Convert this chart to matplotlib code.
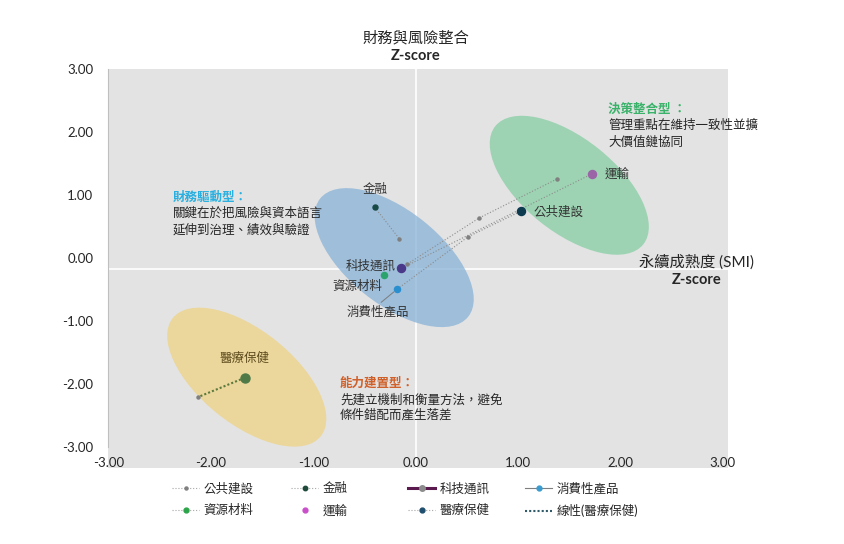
import matplotlib.pyplot as plt
from matplotlib.lines import Line2D
from matplotlib.patches import Ellipse
from matplotlib.transforms import ScaledTranslation

plt.rcParams['font.family'] = ['Lato', 'Noto Sans CJK TC', 'DejaVu Sans']

# industries: SMI z-score (x) vs finance & risk integration z-score (y)
names = ['公共建設', '金融', '科技通訊', '消費性產品', '資源材料', '運輸', '醫療保健']
smi = [1.03, -0.40, -0.14, -0.18, -0.31, 1.72, -1.67]
fin = [0.75, 0.81, -0.16, -0.49, -0.27, 1.34, -1.90]
colors = ['#0e3a50', '#184a46', '#4a3888', '#2a8fcf', '#2aa46c', '#9b64a6', '#4f7a48']
sizes = [5.8, 3.6, 5.8, 4.4, 4.4, 5.8, 6.5]

# dotted connector lines drawn between points
link_x = [[-0.08, 0.62, 1.38], [-0.14, 1.72], [-0.18, 0.51, 1.03], [-0.40, -0.16]]
link_y = [[-0.09, 0.64, 1.26], [-0.16, 1.34], [-0.49, 0.34, 0.75], [0.81, 0.31]]
small_x = [-0.08, 0.62, 1.38, 0.51, -0.16, -2.13]
small_y = [-0.09, 0.64, 1.26, 0.34, 0.31, -2.21]

# linear trend for 醫療保健
trend_x = [-1.67, -2.13]
trend_y = [-1.90, -2.21]

# cluster ellipses
cluster_x = [-0.21, 1.50, -1.65]
cluster_y = [0.01, 1.16, -1.89]
cluster_col = ['#87b2d7', '#86cea4', '#eed283']

ticks = [-3, -2, -1, 0, 1, 2, 3]
tick_labels = [f'{t:.2f}' for t in ticks]

fig = plt.figure(figsize=(8.45, 5.44), dpi=100)
ax = fig.add_axes([108.5 / 845, 76 / 544, 619.5 / 845, 398.5 / 544])
ax.set_facecolor('#e3e3e3')
ax.set_xlim(-3.0, 3.05)
ax.set_ylim(-3.334, 3.0)
for s in ['top', 'right', 'bottom']:
    ax.spines[s].set_visible(False)
ax.spines['left'].set_bounds(-3, 3)
ax.spines['left'].set_color('#bfbfbf')
ax.set_xticks(ticks, tick_labels)
ax.set_yticks(ticks, tick_labels)
ax.tick_params(axis='x', length=0, pad=-8, labelsize=9.5, labelcolor='#262626')
ax.tick_params(axis='y', length=0, pad=11, labelsize=9.5, labelcolor='#262626')

ax.axvline(0, color='white', lw=1.2, zorder=1)
ax.axhline(-0.17, color='white', lw=1.2, zorder=1)

for cx, cy, c in zip(cluster_x, cluster_y, cluster_col):
    tr = fig.dpi_scale_trans + ScaledTranslation(cx, cy, ax.transData)
    ax.add_patch(Ellipse((0, 0), 1.894, 0.936, angle=-38.6, transform=tr,
                         facecolor=c, edgecolor='none', alpha=0.75, zorder=2))

for lx, ly in zip(link_x, link_y):
    ax.plot(lx, ly, color='#8c8c8c', ls=':', lw=0.8, zorder=3)
ax.plot(trend_x, trend_y, color='#5c7a3c', ls=(0, (1, 1)), lw=1.5, zorder=3)
ax.plot(small_x, small_y, 'o', color='#808080', ms=2.2, zorder=4)

for x, y, c, ms in zip(smi, fin, colors, sizes):
    ax.plot(x, y, 'o', color=c, ms=ms, zorder=5)

lab = dict(fontsize=9, color='#333333', textcoords='offset points', va='center', zorder=6)
ax.annotate(names[0], (smi[0], fin[0]), xytext=(9, 0), ha='left', **lab)
ax.annotate(names[1], (smi[1], fin[1]), xytext=(0, 13), ha='center', **lab)
ax.annotate(names[2], (smi[2], fin[2]), xytext=(-4, 2), ha='right', **lab)
ax.annotate(names[3], (smi[3], fin[3]), xytext=(-14, -16), ha='center',
            arrowprops=dict(arrowstyle='-', color='#7f7f7f', lw=0.75,
                            shrinkA=0, shrinkB=3, relpos=(0.5, 1.0)), **lab)
ax.annotate(names[4], (smi[4], fin[4]), xytext=(-1, -8), ha='right', **lab)
ax.annotate(names[5], (smi[5], fin[5]), xytext=(9, 0), ha='left', **lab)
lab['color'] = '#5c4b1d'
ax.annotate(names[6], (smi[6], fin[6]), xytext=(0, 14.5), ha='center', **lab)

# quadrant notes
body = dict(fontsize=9, color='#262626', va='center', ha='left', zorder=6)
ax.text(-2.37, 0.97, '財務驅動型：', color='#2ab0e0', fontsize=9, fontweight='bold', va='center')
ax.text(-2.37, 0.72, '關鍵在於把風險與資本語言', **body)
ax.text(-2.37, 0.46, '延伸到治理、績效與驗證', **body)
ax.text(1.88, 2.37, '決策整合型 ：', color='#3ab26a', fontsize=9, fontweight='bold', va='center')
ax.text(1.88, 2.12, '管理重點在維持一致性並擴', **body)
ax.text(1.88, 1.86, '大價值鏈協同', **body)
ax.text(-0.74, -1.98, '能力建置型：', color='#d0602a', fontsize=9, fontweight='bold', va='center')
ax.text(-0.74, -2.24, '先建立機制和衡量方法，避免', **body)
ax.text(-0.74, -2.48, '條件錯配而產生落差', **body)

fig.text(416 / 845, 1 - 38 / 544, '財務與風險整合', ha='center', va='center', fontsize=11, color='#262626')
fig.text(416 / 845, 1 - 56 / 544, 'Z-score', ha='center', va='center', fontsize=10.5,
         fontweight='bold', color='#262626')
fig.text(697 / 845, 1 - 262 / 544, '永續成熟度 (SMI)', ha='center', va='center', fontsize=11, color='#262626')
fig.text(697 / 845, 1 - 280 / 544, 'Z-score', ha='center', va='center', fontsize=10.5,
         fontweight='bold', color='#262626')

# legend, laid out in four equal columns
gray = '#a6a6a6'
h = [
    Line2D([], [], color=gray, ls=':', lw=0.8, marker='o', ms=2.2, mfc='#808080', mec='#808080'),
    Line2D([], [], color=gray, ls=':', lw=0.8, marker='o', ms=3.2, mfc='#1e4a3c', mec='#1e4a3c'),
    Line2D([], [], color='#5b1a4e', ls='-', lw=2.2, marker='o', ms=4, mfc='#8c8c8c', mec='#8c8c8c'),
    Line2D([], [], color='#7f7f7f', ls='-', lw=0.8, marker='o', ms=3.5, mfc='#3a9bd0', mec='#3a9bd0'),
    Line2D([], [], color=gray, ls=':', lw=0.8, marker='o', ms=3.5, mfc='#2ca54a', mec='#2ca54a'),
    Line2D([], [], color='none', marker='o', ms=3.5, mfc='#c94fc9', mec='#c94fc9'),
    Line2D([], [], color=gray, ls=':', lw=0.8, marker='o', ms=3.5, mfc='#1f4e6e', mec='#1f4e6e'),
    Line2D([], [], color='#2f5a6a', ls=(0, (1, 1)), lw=1.5),
]
leg_labels = ['公共建設', '金融', '科技通訊', '消費性產品', '資源材料', '運輸', '醫療保健', '線性(醫療保健)']
col_x = [172, 291, 408, 525]
for i, x in enumerate(col_x):
    fig.legend([h[i], h[i + 4]], [leg_labels[i], leg_labels[i + 4]], loc='upper left',
               bbox_to_anchor=(x / 845, 1 - 482 / 544), frameon=False, fontsize=9,
               borderpad=0, borderaxespad=0, handlelength=2.2, handletextpad=0.3,
               labelspacing=0.8, numpoints=1, labelcolor='#262626')

fig.savefig('out.png', dpi=100)
